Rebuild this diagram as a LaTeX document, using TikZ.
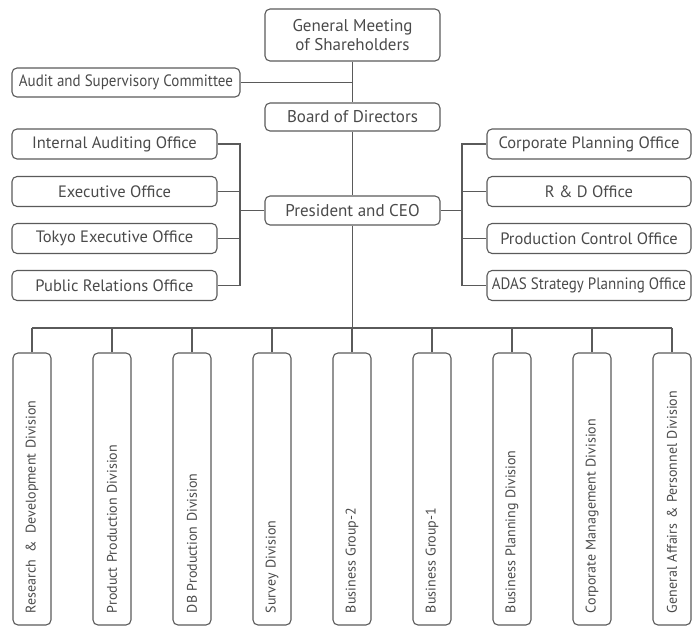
\documentclass[tikz,border=0pt]{standalone}
\usepackage{fontspec}
\setmainfont{PT Sans}
\newfontfamily\narrowfont{PT Sans}[FakeStretch=0.91]
\definecolor{linegray}{HTML}{5A5A5A}
\definecolor{textgray}{HTML}{4A4A4A}
\begin{document}
\begin{tikzpicture}[x=1pt,y=-1pt,
    unit/.style={draw=linegray,line width=1.1pt,rounded corners=5pt,inner sep=0pt,
      text=textgray,font=\fontsize{16.5}{19}\selectfont,align=center},
    narrow/.style={font=\narrowfont\fontsize{16.5}{19}\selectfont},
    top/.style={unit,font=\fontsize{17}{19}\selectfont,minimum width=175pt},
    division/.style={unit,rotate=90,minimum width=272pt,minimum height=38pt,
      text width=248pt,align=left,font=\fontsize{14}{17}\selectfont}]
  \useasboundingbox (0,0) rectangle (697,627);
  \draw[unit]
    (352.5,35) node[top,minimum height=52pt] (gms){General Meeting\\of Shareholders}
    (126,82.5) node[unit,narrow,minimum width=228pt,minimum height=29pt] (asc){Audit and Supervisory Committee}
    (352.5,117) node[top,minimum height=28pt] (bod){Board of Directors}
    (352.5,210.5) node[top,minimum height=29pt] (ceo){President and CEO};
  % offices left and right of the CEO
  \foreach \n/\y/\t in {iao/144/Internal Auditing Office,exo/191.5/Executive Office,
      teo/238.5/Tokyo Executive Office,pro/285.5/Public Relations Office}
    \node[unit,minimum width=205pt,minimum height=30pt] (\n) at (114.5,\y) {\t};
  \foreach \n/\y/\t in {cpo/144/Corporate Planning Office,rdo/191.5/R \& D Office,
      pco/238.5/Production Control Office}
    \node[unit,minimum width=204pt,minimum height=30pt] (\n) at (589,\y) {\t};
  \node[unit,narrow,minimum width=204pt,minimum height=30pt] (aso) at (589,285.5) {ADAS Strategy Planning Office};
  % divisions
  \foreach \t [count=\i from 0] in {Research\hspace{0.2em} \&\hspace{0.2em} Development Division,Product Production Division,
      DB Production Division,Survey Division,Business Group-2,Business Group-1,
      Business Planning Division,Corporate Management Division,General Affairs \& Personnel Division}
    \node[division] (d\i) at (32+80*\i,489) {\t};
  \coordinate (lbus) at (240,144);
  \coordinate (rbus) at (462,144);
  \coordinate (bbus) at (352.5,328);
  \begin{scope}[draw=linegray,line width=1.1pt]
    \draw (gms) -- (bod);
    \draw (asc.east) -- (asc.east -| gms.south);
    \draw (bod) -- (ceo);
    \draw (ceo.west) -- (ceo.west -| lbus);
    \draw (iao.east) -| (lbus |- pro.east) -- (pro.east);
    \draw (exo.east) -- (exo.east -| lbus);
    \draw (teo.east) -- (teo.east -| lbus);
    \draw (ceo.east) -- (ceo.east -| rbus);
    \draw (cpo.west) -| (rbus |- aso.west) -- (aso.west);
    \draw (rdo.west) -- (rdo.west -| rbus);
    \draw (pco.west) -- (pco.west -| rbus);
    \draw (ceo.south) -- (bbus);
    \draw (d0.east |- bbus) -- (d8.east |- bbus);
    \foreach \i in {0,...,8}
      \draw (d\i.east) -- (d\i.east |- bbus);
  \end{scope}
\end{tikzpicture}
\end{document}
